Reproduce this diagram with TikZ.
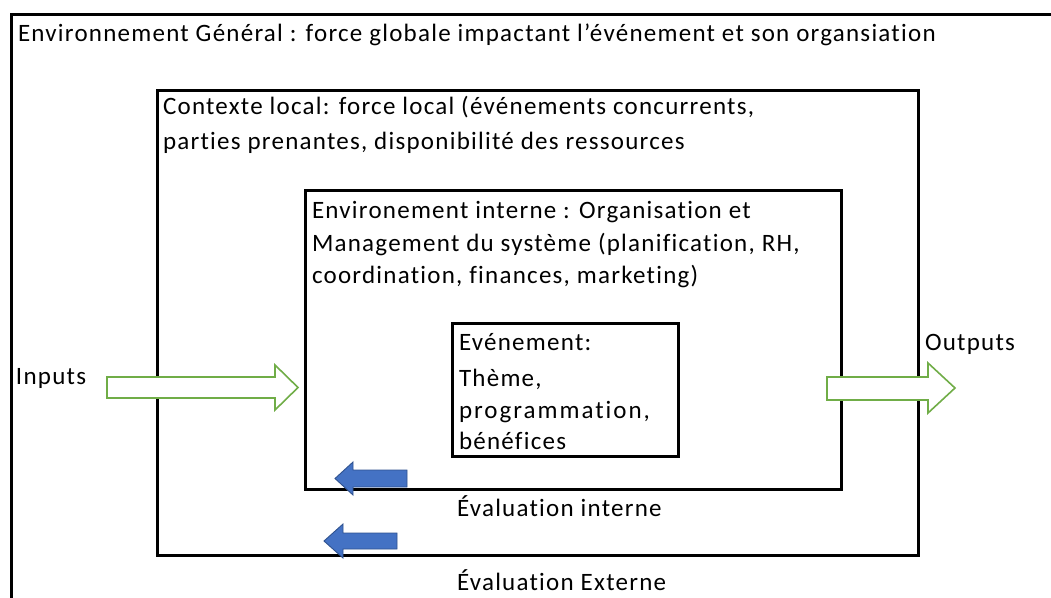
\documentclass[tikz,border=0pt]{standalone}
\usepackage{fontspec}
\setmainfont{Carlito}[LetterSpace=5,Ligatures=NoCommon]
\definecolor{arrgreen}{HTML}{70AD47}
\definecolor{arrblue}{HTML}{4472C4}
\definecolor{arrblueedge}{HTML}{2F528F}
\begin{document}
\begin{tikzpicture}[x=1pt,y=-1pt,
  frame/.style={draw=black,line width=3pt},
  lbl/.style={anchor=base west,inner sep=0pt,outer sep=0pt,font=\fontsize{25}{31}\selectfont},
  greenarrow/.style={draw=arrgreen,fill=white,line width=1.6pt,line join=miter},
  bluearrow/.style={draw=arrblueedge,fill=arrblue,line width=0.9pt,line join=miter}]
\useasboundingbox (0,0) rectangle (1051,597);
\clip (0,0) rectangle (1051,597);
\fill[white] (0,0) rectangle (1051,597);
% boxes
\draw[frame] (11,14) rectangle (1070,620);
\draw[frame] (157,90) rectangle (918,555);
\draw[frame] (305,190) rectangle (841,489);
\draw[frame] (452,323) rectangle (678,456);
% texts
\node[lbl] (general) at (18,41) {Environnement Général : force globale impactant l'événement et son organsiation};
\node[lbl] (localA) at (163,114) {Contexte local: force local (événements concurrents,};
\node[lbl] (localB) at (163,149) {parties prenantes, disponibilité des ressources};
\node[lbl] (interneA) at (312,218) {Environement interne : Organisation et};
\node[lbl] (interneB) at (312,251) {Management du système (planification, RH,};
\node[lbl] (interneC) at (312,283) {coordination, finances, marketing)};
\node[lbl] (eventA) at (459,350) {Evénement:};
\node[lbl] (eventB) at (459,386) {Thème,};
\node[lbl] (eventC) at (459,418) {\addfontfeature{LetterSpace=8}programmation,};
\node[lbl] (eventD) at (459,449) {bénéfices};
\node[lbl] (inputs) at (16,384) {Inputs};
\node[lbl] (outputs) at (925,350) {Outputs};
\node[lbl] (evalint) at (457,516) {Évaluation interne};
\node[lbl] (evalext) at (457,590) {Évaluation Externe};
% green arrows
\draw[greenarrow] (107,377) -- (275,377) -- (275,365) -- (298,387.5) -- (275,410) -- (275,398) -- (107,398) -- cycle;
\draw[greenarrow] (827,377) -- (928,377) -- (928,363) -- (955,388) -- (928,413) -- (928,400) -- (827,400) -- cycle;
% blue arrows
\draw[bluearrow] (407,470) -- (353,470) -- (353,462) -- (335,478.5) -- (353,495) -- (353,487) -- (407,487) -- cycle;
\draw[bluearrow] (397,533) -- (343,533) -- (343,524) -- (324,541) -- (343,558) -- (343,549) -- (397,549) -- cycle;
\end{tikzpicture}
\end{document}
